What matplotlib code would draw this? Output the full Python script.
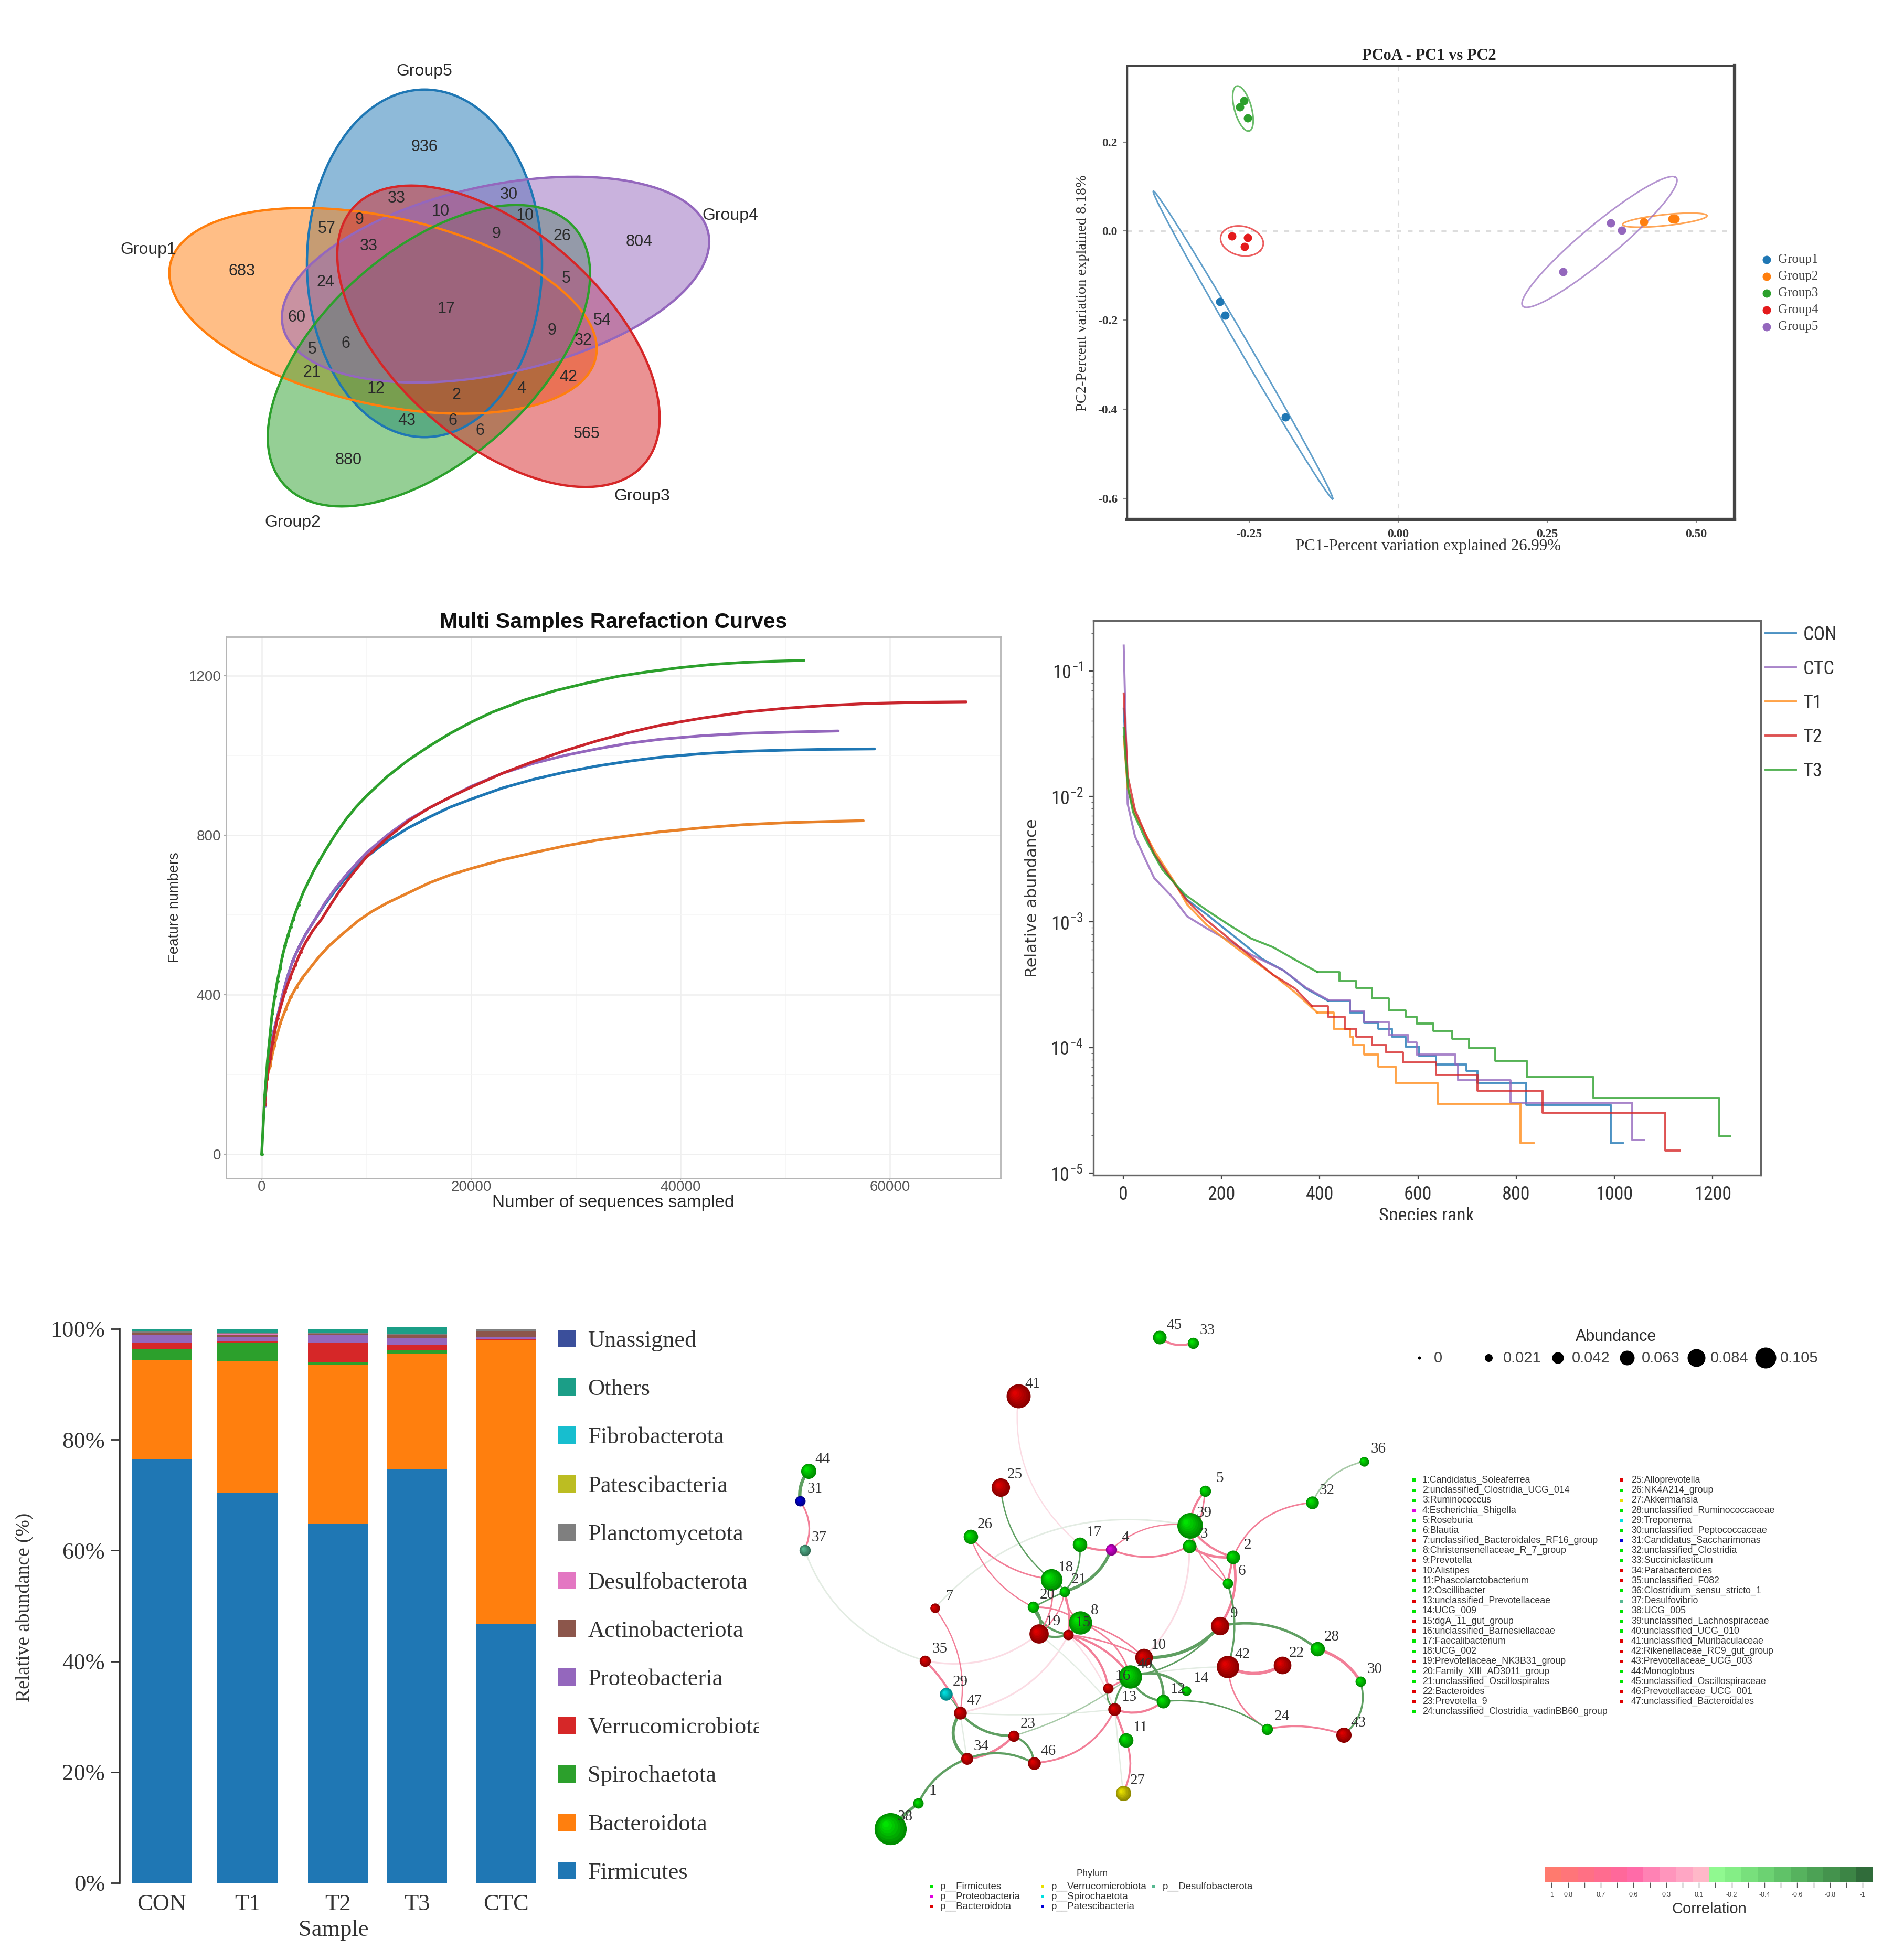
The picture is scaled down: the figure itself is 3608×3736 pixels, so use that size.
import numpy as np
import matplotlib
matplotlib.use("Agg")
from matplotlib import pyplot as plt
from matplotlib import ticker
from matplotlib.patches import Ellipse, PathPatch
from matplotlib.path import Path
from matplotlib.colors import ListedColormap, to_rgb
from matplotlib.transforms import Affine2D, Bbox
import logging

logging.getLogger("matplotlib.font_manager").setLevel(logging.ERROR)

W, H = 3608, 3736
SANS = "Liberation Sans"
SERIF = "Liberation Serif"
NARROW = ["Roboto Condensed", "Liberation Sans"]

# venn
venn_names = ["Group1", "Group2", "Group3", "Group4", "Group5"]
venn_colors = ["#ff7f0e", "#2ca02c", "#d62728", "#9467bd", "#1f77b4"]
venn_values = [936, 33, 30, 10, 10, 9, 57, 9, 26, 33, 804, 683, 24, 5, 17, 60, 54, 9, 32, 6, 5, 21, 42, 12, 4, 2,
               43, 6, 6, 565, 880]
venn_value_x = [809, 756, 970, 840, 1001, 685, 623, 946, 1071, 703, 1218, 461, 620, 1079, 851, 566, 1148, 1052, 1112,
                659, 595, 594, 1083, 717, 994, 870, 775, 863, 915, 1118, 664]
venn_value_y = [280, 378, 371, 403, 411, 419, 436, 446, 450, 469, 461, 517, 538, 531, 589, 605, 611, 630, 649, 655,
                666, 710, 719, 741, 741, 753, 802, 802, 821, 827, 877]

# pcoa
pcoa_groups = ["Group1", "Group2", "Group3", "Group4", "Group5"]
pcoa_colors = ["#1f77b4", "#ff7f0e", "#2ca02c", "#e41a1c", "#9467bd"]
pcoa_x = [[-0.299, -0.290, -0.189], [0.412, 0.459, 0.465], [-0.265, -0.258, -0.2525],
          [-0.279, -0.2525, -0.2576], [0.276, 0.356, 0.375]]
pcoa_y = [[-0.159, -0.189, -0.418], [0.021, 0.028, 0.027], [0.278, 0.293, 0.254],
          [-0.0115, -0.0153, -0.035], [-0.092, 0.0176, 0.002]]
# centre, end of long axis, end of short axis (offsets from centre)
pcoa_ell_c = [(-0.260, -0.256), (0.447, 0.0245), (-0.2601, 0.2751), (-0.2618, -0.0222), (0.3376, -0.0245)]
pcoa_ell_u = [(0.150, -0.3456), (0.0707, 0.0103), (0.0097, -0.0506), (0.031, -0.0215), (0.1271, 0.1456)]
pcoa_ell_v = [(0.0125, -0.005), (0.003, -0.012), (0.0143, 0.0023), (-0.018, -0.026), (0.027, -0.020)]

# rarefaction
rare_colors = {"T3": "#2ca02c", "T2": "#c9252d", "CTC": "#9467bd", "CON": "#1f77b4", "T1": "#e8822a"}
rare_t3_x = [0, 296, 546, 797, 997, 1263, 1498, 1749, 1984, 2235, 2500, 2766, 3000, 3500, 4000, 5000, 6000, 7000, 8000,
             9000, 10000, 12000, 14000, 16000, 18000, 20000, 22000, 25000, 28000, 31000, 34000, 37000, 40000, 43000,
             46000, 49000, 51780]
rare_t3_y = [0, 148, 233, 299, 352, 396, 434, 466, 497, 523, 548, 569, 589, 625, 658, 712, 758, 800, 838, 870, 898, 947,
             988, 1023, 1055, 1083, 1108, 1138, 1162, 1181, 1198, 1210, 1220, 1228, 1233, 1236, 1238]
rare_con_x = [296, 496, 797, 1047, 1682, 2054, 2470, 2970, 3557, 4220, 5060, 6000, 7000, 8000, 9000, 10000, 12000,
              14000, 16000, 18000, 20000, 23000, 26000, 29000, 32000, 35000, 38000, 42000, 46000, 50000, 54000, 58510]
rare_con_y = [133, 205, 253, 297, 363, 405, 445, 485, 519, 552, 587, 625, 660, 692, 720, 745, 785, 818, 845, 870, 890,
              918, 940, 958, 973, 985, 995, 1004, 1010, 1013, 1015, 1016]
rare_ctc_x = [296, 496, 797, 1047, 1682, 2054, 2470, 2970, 3557, 4220, 5060, 6000, 7000, 8000, 9000, 10000, 12000,
              14000, 16000, 18000, 20000, 23000, 26000, 29000, 32000, 35000, 38000, 42000, 46000, 50000, 55060]
rare_ctc_y = [120, 200, 250, 295, 363, 405, 445, 485, 519, 552, 587, 628, 665, 698, 727, 755, 800, 838, 868, 895, 922,
              955, 980, 1000, 1016, 1030, 1040, 1049, 1055, 1058, 1061]
rare_t2_x = [296, 496, 797, 1047, 1500, 2220, 2705, 3210, 3710, 4220, 4896, 5720, 6500, 7500, 8500, 10000, 12000, 14000,
             16000, 18000, 20000, 23000, 26000, 29000, 32000, 35000, 38000, 42000, 46000, 50000, 54000, 58000, 63000,
             67270]
rare_t2_y = [125, 190, 240, 280, 340, 407, 442, 475, 506, 532, 561, 589, 622, 662, 697, 745, 793, 835, 868, 895, 920,
             955, 985, 1012, 1036, 1057, 1075, 1093, 1108, 1118, 1125, 1130, 1133, 1134]
rare_t1_x = [451, 797, 1197, 1780, 2280, 2780, 3300, 3890, 4550, 5390, 6390, 7720, 9220, 10500, 12000, 14000, 16000,
             18000, 20000, 23000, 26000, 29000, 32000, 35000, 38000, 42000, 46000, 50000, 54000, 57450]
rare_t1_y = [186, 222, 272, 328, 363, 394, 418, 442, 464, 492, 521, 552, 585, 608, 630, 655, 680, 700, 716, 738, 756,
             773, 787, 798, 808, 818, 826, 831, 834, 836]

# species rank
rank_colors = {"CON": "#1f77b4", "CTC": "#9467bd", "T1": "#ff8c1a", "T2": "#d62728", "T3": "#2ca02c"}
rank_con_x = [1, 9, 24, 63, 102, 130, 170, 192, 237, 282, 327, 372, 417, 462, 490, 519, 547, 575, 603, 637, 699, 721,
              820, 993, 1017]
rank_con_y = [.05, .0115, .0074, .0035, .0021, .0015, .00115, .00098, .00071, .00051, .00041, .000295, .000236,
              .00019, .000158, .000141, .000122, .000102, .0000857, .000073, .0000653, .0000525, .0000349, .0000174,
              .0000174]
rank_ctc_x = [1, 9, 24, 46, 63, 102, 130, 170, 215, 260, 327, 372, 417, 462, 490, 541, 580, 597, 676, 682, 788, 1036,
              1061]
rank_ctc_y = [.159, .0087, .0048, .0031, .00224, .00155, .00111, .00089, .00071, .00055, .00041, .0003, .00024,
              .000195, .00016, .000126, .00011, .0000877, .000073, .000055, .0000363, .0000184, .0000184]
rank_t1_x = [1, 9, 24, 63, 102, 130, 170, 215, 260, 305, 350, 395, 429, 462, 468, 490, 519, 555, 640, 809, 836]
rank_t1_y = [.03, .0117, .0072, .0037, .00215, .00138, .00095, .00069, .00051, .00038, .000275, .00019, .000141,
             .000122, .000105, .0000877, .0000703, .0000525, .0000355, .0000174, .0000174]
rank_t2_x = [1, 9, 24, 63, 102, 130, 170, 215, 260, 305, 350, 384, 417, 451, 474, 507, 535, 569, 637, 721, 854, 1104,
             1134]
rank_t2_y = [.066, .0146, .0078, .00347, .00208, .00148, .00103, .00074, .00053, .00038, .000295, .000214, .000176,
             .000141, .000122, .000105, .0000912, .0000759, .0000607, .0000452, .0000302, .0000152, .0000152]
rank_t3_x = [1, 5, 10, 20, 46, 80, 125, 170, 215, 260, 305, 350, 395, 440, 474, 507, 541, 575, 597, 631, 670, 704, 757,
             822, 957, 1214, 1236]
rank_t3_y = [.035, .02, .0117, .0075, .0045, .0026, .00166, .00124, .00095, .00074, .00063, .0005, .0004, .00034,
             .0003, .000246, .000197, .000176, .000155, .000136, .000117, .0000993, .0000785, .0000585, .0000395,
             .0000197, .0000197]

# stacked bars
samples = ["CON", "T1", "T2", "T3", "CTC"]
bar_phyla = ["Firmicutes", "Bacteroidota", "Spirochaetota", "Verrucomicrobiota", "Proteobacteria", "Actinobacteriota",
             "Desulfobacterota", "Planctomycetota", "Patescibacteria", "Fibrobacterota", "Others", "Unassigned"]
bar_colors = ["#1f77b4", "#ff7f0e", "#2ca02c", "#d62728", "#9467bd", "#8c564b", "#e377c2", "#7f7f7f", "#bcbd22",
              "#17becf", "#1b9e87", "#3b4f9b"]
bar_values = {
    "CON": [76.5, 17.8, 2.1, 1.1, 1.4, 0.3, 0.05, 0.35, 0.0, 0.0, 0.35, 0.05],
    "T1": [70.5, 23.7, 3.3, 0.2, 0.8, 0.5, 0.05, 0.3, 0.0, 0.0, 0.6, 0.05],
    "T2": [64.8, 28.8, 0.4, 3.5, 1.4, 0.2, 0.05, 0.1, 0.0, 0.0, 0.7, 0.05],
    "T3": [74.7, 20.8, 0.6, 1.0, 1.2, 0.6, 0.05, 0.1, 0.0, 0.0, 1.2, 0.05],
    "CTC": [46.7, 51.2, 0.05, 0.15, 0.4, 1.1, 0.05, 0.3, 0.0, 0.0, 0.05, 0.0],
}
bar_left = [251, 414, 587, 737, 907]
bar_right = [366, 530, 701, 852, 1022]

# network: node positions
node_x = [327, 1111, 1002, 807, 1041, 1097, 368, 730, 1078, 889, 844, 937, 816, 995, 701, 800, 729, 658, 627, 613, 691,
          1233, 564, 1196, 532, 457, 837, 1321, 396, 1428, 33, 1308, 1011, 448, 344, 1437, 44, 258, 1003, 855, 576,
          1098, 1387, 53, 928, 615, 431]
node_y = [1336, 667, 637, 647, 487, 738, 806, 845, 854, 940, 1164, 1059, 1081, 1030, 878, 1023, 633, 728, 875, 803,
          761, 961, 1153, 1134, 477, 612, 1308, 917, 1039, 1005, 515, 519, 85, 1215, 949, 407, 648, 1405, 581, 992, 230,
          965, 1150, 433, 70, 1227, 1090]
node_radius = [13, 17, 17, 14, 14, 13, 12, 29, 23, 22, 18, 17, 16, 12, 13, 13, 18, 27, 24, 14, 13, 22, 14, 14, 23, 18,
               19, 18, 16, 13, 13, 16, 14, 15, 14, 12, 14, 40, 32, 29, 30, 28, 19, 19, 17, 16, 16]
genera = ["Candidatus_Soleaferrea", "unclassified_Clostridia_UCG_014", "Ruminococcus", "Escherichia_Shigella",
          "Roseburia", "Blautia", "unclassified_Bacteroidales_RF16_group", "Christensenellaceae_R_7_group",
          "Prevotella", "Alistipes", "Phascolarctobacterium", "Oscillibacter", "unclassified_Prevotellaceae",
          "UCG_009", "dgA_11_gut_group", "unclassified_Barnesiellaceae", "Faecalibacterium", "UCG_002",
          "Prevotellaceae_NK3B31_group", "Family_XIII_AD3011_group", "unclassified_Oscillospirales", "Bacteroides",
          "Prevotella_9", "unclassified_Clostridia_vadinBB60_group", "Alloprevotella", "NK4A214_group", "Akkermansia",
          "unclassified_Ruminococcaceae", "Treponema", "unclassified_Peptococcaceae", "Candidatus_Saccharimonas",
          "unclassified_Clostridia", "Succiniclasticum", "Parabacteroides", "unclassified_F082",
          "Clostridium_sensu_stricto_1", "Desulfovibrio", "UCG_005", "unclassified_Lachnospiraceae",
          "unclassified_UCG_010", "unclassified_Muribaculaceae", "Rikenellaceae_RC9_gut_group",
          "Prevotellaceae_UCG_003", "Monoglobus", "unclassified_Oscillospiraceae", "Prevotellaceae_UCG_001",
          "unclassified_Bacteroidales"]
# F firmicutes, B bacteroidota, P proteo, V verruco, S spiro, A patesci, D desulfo
node_phylum = "FFFPFFBFBBFFBFBBFFBFFBBFBFVFSFAFFBBFDFFFBBBFFBB"
phylum_colors = {"F": "#00e400", "P": "#e000e0", "B": "#e00000", "V": "#e8e000", "S": "#00e0e0", "A": "#0000d8",
                 "D": "#55b890"}
phylum_names = ["p__Firmicutes", "p__Proteobacteria", "p__Bacteroidota", "p__Verrucomicrobiota", "p__Spirochaetota",
                "p__Patescibacteria", "p__Desulfobacterota"]
phylum_keys = "FPBVSAD"
edge_colors = {"p": "#f27f98", "g": "#5f9f62", "lp": "#fbdce4", "lg": "#e3ece3", "mg": "#a8caa8"}
# from, to, bend, kind, width
edges = [
    (45, 33, -.3, "p", 2.6), (44, 31, -.2, "g", 4), (31, 37, .25, "p", 2), (41, 17, -.25, "lp", 1.5),
    (25, 18, -.2, "g", 1.6), (26, 18, -.2, "p", 1.8), (26, 20, -.2, "p", 1.5), (17, 4, -.15, "p", 2.6),
    (17, 21, .2, "g", 1.8), (4, 21, .25, "g", 3.6), (4, 3, -.25, "p", 2.2), (4, 39, .25, "p", 1.5),
    (37, 35, -.25, "lg", 1.8), (7, 47, .2, "p", 1.5), (35, 47, .1, "p", 2.6), (35, 19, -.25, "lp", 2),
    (7, 39, .3, "lg", 1.8), (29, 47, .1, "g", 1.2), (47, 34, -.4, "g", 3.6), (47, 23, -.25, "g", 3),
    (34, 23, -.2, "p", 3), (34, 46, .25, "g", 2.6), (23, 46, .3, "g", 2.6), (47, 34, 0, "lg", 1.5),
    (1, 34, .2, "g", 2.8), (38, 1, .05, "g", 3.5), (46, 13, -.3, "p", 2.2), (23, 40, -.1, "mg", 1.6),
    (47, 15, -.25, "lp", 2), (47, 13, -.05, "lg", 1.5), (13, 27, 0, "lg", 1.5), (13, 11, 0, "p", 2.6),
    (11, 27, .2, "p", 2.2), (13, 16, .3, "g", 2), (16, 40, 0, "p", 2), (13, 40, .2, "g", 2.2),
    (13, 12, -.3, "p", 2.6), (10, 12, .25, "g", 3), (40, 12, -.3, "g", 2.6), (40, 14, .35, "g", 3),
    (10, 9, -.25, "g", 3.8), (40, 9, -.2, "g", 1.8), (9, 28, .25, "g", 3), (9, 2, -.2, "p", 3),
    (6, 42, .15, "g", 2.2), (2, 6, 0, "p", 2.6), (3, 2, -.2, "p", 3), (39, 2, -.2, "p", 2.6), (39, 5, .15, "p", 2.6),
    (3, 5, -.1, "p", 1.8), (39, 6, -.2, "p", 1.6), (3, 6, .2, "p", 1.6), (3, 10, .2, "lp", 2), (40, 42, .05, "lg", 1.6),
    (42, 22, -.3, "p", 3.8), (42, 24, -.25, "p", 1.8), (28, 30, .2, "p", 3.5), (30, 43, .3, "g", 2.2),
    (43, 24, -.15, "p", 2.2), (12, 24, .2, "g", 1.8), (36, 32, -.25, "mg", 1.8), (32, 2, -.3, "p", 1.8),
    (18, 21, .2, "g", 1.8), (21, 20, 0, "g", 1.8), (20, 19, .3, "g", 3), (19, 15, -.2, "g", 2.6), (20, 15, -.3, "g", 2.6),
    (21, 8, -.2, "p", 1.8), (20, 8, .2, "p", 1.8), (18, 19, .2, "p", 1.8), (21, 15, .1, "p", 2.2), (8, 15, 0, "p", 1.8),
    (21, 19, .2, "p", 1.5), (8, 10, .15, "p", 1.8), (15, 40, .2, "p", 2.6), (15, 16, .25, "p", 2.6), (15, 10, .1, "p", 1.8),
    (8, 40, .25, "p", 1.8), (15, 13, .1, "lp", 1.6), (19, 13, .05, "lg", 1.5),
]
abund_values = ["0", "0.021", "0.042", "0.063", "0.084", "0.105"]
abund_dot_x = [2705, 2837, 2969, 3101, 3233, 3365]
abund_dot_r = [3, 7.5, 11, 14, 17, 20]
abund_text_x = [2733, 2865, 2996, 3129, 3260, 3393]
corr_colors = ["#ff7a6e", "#ff7579", "#ff7084", "#ff6c8f", "#ff689a", "#ff6ba8", "#ff82b4", "#ff95bc", "#ffa6c4",
               "#ffb8c8", "#90f990", "#84ee86", "#78e07c", "#6cd272", "#60c268", "#56b25e", "#4ca255", "#44934d",
               "#3c8545", "#306c3a"]
corr_tick_idx = [0, 1, 3, 5, 7, 9, 11, 13, 15, 17, 19]
corr_labels = ["1", "0.8", "0.7", "0.6", "0.3", "0.1", "-0.2", "-0.4", "-0.6", "-0.8", "-1"]

plt.rcParams["mathtext.default"] = "regular"
fig = plt.figure(figsize=(W / 100, H / 100), dpi=100)


def px_axes(x0, y0, x1, y1, **kw):
    return fig.add_axes([x0 / W, 1 - y1 / H, (x1 - x0) / W, (y1 - y0) / H], **kw)


# overlay in picture pixels, for free text and the venn
ov = fig.add_axes([0, 0, 1, 1], zorder=10)
ov.set_xlim(0, W)
ov.set_ylim(H, 0)
ov.axis("off")
ov.patch.set_alpha(0)


def txt(x, y, s, size, family=SANS, color="#2b2b2b", ha="center", va="center", **kw):
    return ov.text(x, y, s, fontsize=size, family=family, color=color, ha=ha, va=va, **kw)


def clip_right(t, xmax=W, ybottom=H):
    t.set_clip_box(Bbox([[0, H - ybottom], [xmax, H]]))
    t.set_clip_on(True)


def place_labels(ax, xlabel, xpos, ylabel, ypos, size, family=SANS, color="#2b2b2b", rot_size=None):
    ax.set_xlabel(xlabel, fontsize=size, family=family, color=color, va="center", ha="center")
    ax.set_ylabel(ylabel, fontsize=rot_size or size, family=family, color=color, va="center", ha="center")
    ax.xaxis.set_label_coords(xpos[0], xpos[1], transform=ov.transData)
    ax.yaxis.set_label_coords(ypos[0], ypos[1], transform=ov.transData)


# ---- venn ----
venn_cx = [730, 817.5, 950, 944.5, 809]
venn_cy = [592.5, 678, 641, 533, 502]
venn_angle = [18, -54, 54, -18, 90]
squash = 0.785
venn_tr = Affine2D().scale(1, squash) + ov.transData
for i in [4, 0, 1, 2, 3]:
    ov.add_patch(Ellipse((venn_cx[i], venn_cy[i] / squash), 844, 448, angle=venn_angle[i], facecolor=venn_colors[i],
                         alpha=0.5, edgecolor="none", transform=venn_tr, zorder=1))
for i in [4, 3, 0, 1, 2]:
    ov.add_patch(Ellipse((venn_cx[i], venn_cy[i] / squash), 844, 448, angle=venn_angle[i], facecolor="none",
                         edgecolor=venn_colors[i], lw=3.2, transform=venn_tr, zorder=2))
for v, x, y in zip(venn_values, venn_value_x, venn_value_y):
    txt(x, y, str(v), 22, zorder=3)
for name, x, y in zip(venn_names, [283, 558, 1224, 1392, 809], [476, 996, 946, 411, 136]):
    txt(x, y, name, 23, zorder=3)

# ---- pcoa ----
ax = px_axes(2148, 125, 3306, 990)
ax.set_xlim(-0.4545, 0.564)
ax.set_ylim(-0.6475, 0.3716)
ax.axhline(0, color="#dddddd", lw=2.2, ls=(0, (3, 4)))
ax.axvline(0, color="#dddddd", lw=2.2, ls=(0, (3, 4)))
t = np.linspace(0, 2 * np.pi, 200)
for i, g in enumerate(pcoa_groups):
    c, u, v = pcoa_ell_c[i], pcoa_ell_u[i], pcoa_ell_v[i]
    ax.plot(c[0] + u[0] * np.cos(t) + v[0] * np.sin(t), c[1] + u[1] * np.cos(t) + v[1] * np.sin(t),
            color=pcoa_colors[i], lw=2.2, alpha=0.7)
    ax.scatter(pcoa_x[i], pcoa_y[i], s=110, color=pcoa_colors[i], label=g, zorder=3)
ax.set_xticks([-0.25, 0, 0.25, 0.5], ["-0.25", "0.00", "0.25", "0.50"])
ax.set_yticks([-0.6, -0.4, -0.2, 0, 0.2], ["-0.6", "-0.4", "-0.2", "0.0", "0.2"])
ax.tick_params(labelsize=17, length=5, width=1.5, color="#888888", pad=8)
for lab in ax.get_xticklabels() + ax.get_yticklabels():
    lab.set_family(SERIF)
    lab.set_fontweight("bold")
    lab.set_color("#333333")
for side, lw in zip(["top", "left", "right", "bottom"], [3.5, 2.5, 4.5, 4.5]):
    ax.spines[side].set_linewidth(lw)
    ax.spines[side].set_color("#444444")
place_labels(ax, "PC1-Percent variation explained 26.99%", (2722, 1041), "PC2-Percent variation explained 8.18%",
             (2064, 559), 22.3, SERIF, "#333333", rot_size=20.5)
txt(2724, 107, "PCoA - PC1 vs PC2", 22, SERIF, "#222222", fontweight="bold")
ax.legend(loc="upper left", bbox_to_anchor=(3342, 484), bbox_transform=ov.transData, frameon=False,
          prop={"family": SERIF, "size": 18}, labelspacing=0.38, handletextpad=-0.1, borderpad=0, borderaxespad=0,
          labelcolor="#444444")

# ---- rarefaction ----
ax = px_axes(431, 1214, 1907, 2246)
ax.set_xlim(-3395, 70557)
ax.set_ylim(-61, 1297)
ax.grid(True, which="major", color="#efefef", lw=1.8)
ax.set_xticks([10000, 30000, 50000], minor=True)
ax.set_yticks([200, 600, 1000], minor=True)
ax.grid(True, which="minor", color="#f6f6f6", lw=1.2)
ax.tick_params(which="minor", length=0)
rare_series = [("CON", rare_con_x, rare_con_y), ("CTC", rare_ctc_x, rare_ctc_y), ("T1", rare_t1_x, rare_t1_y),
               ("T2", rare_t2_x, rare_t2_y), ("T3", rare_t3_x, rare_t3_y)]
for name, xs, ys in rare_series:
    ax.plot(xs, ys, color=rare_colors[name], lw=3.8, solid_capstyle="round", zorder=3)
    low = np.array(xs) < 4000
    ax.scatter(np.array(xs)[low], np.array(ys)[low], s=16, color=rare_colors[name], zorder=3)
ax.set_xticks([0, 20000, 40000, 60000])
ax.set_yticks([0, 400, 800, 1200])
ax.tick_params(which="major", labelsize=20, labelcolor="#555555", color="#aaaaaa", length=3, width=1.5)
ax.tick_params(axis="x", which="major", pad=0)
ax.tick_params(axis="y", which="major", pad=4)
for lab in ax.get_xticklabels() + ax.get_yticklabels():
    lab.set_family(SANS)
for s in ax.spines.values():
    s.set_color("#b5b5b5")
    s.set_linewidth(2)
place_labels(ax, "Number of sequences sampled", (1169, 2293), "Feature numbers", (333, 1730), 24, SANS, rot_size=20)
txt(1169, 1186, "Multi Samples Rarefaction Curves", 29.5, SANS, "#111111", fontweight="bold")

# ---- species rank ----
ax = px_axes(2084, 1183, 3356, 2240)
ax.set_yscale("log")
ax.set_xlim(-60.7, 1298)
ax.set_ylim(10 ** -5.016, 10 ** -0.6006)
rank_series = [("CON", rank_con_x, rank_con_y), ("CTC", rank_ctc_x, rank_ctc_y), ("T1", rank_t1_x, rank_t1_y),
               ("T2", rank_t2_x, rank_t2_y), ("T3", rank_t3_x, rank_t3_y)]
for name, xs, ys in rank_series:
    xs, ys = np.array(xs), np.array(ys)
    # the head of the curves is too dense to show steps, the tail is stepped
    n = int(np.sum(xs <= 372))
    ax.plot(xs[:n + 1], ys[:n + 1], color=rank_colors[name], lw=2.8, alpha=0.8, label=name)
    ax.step(xs[n:], ys[n:], where="post", color=rank_colors[name], lw=2.8, alpha=0.8)
ax.set_xticks([0, 200, 400, 600, 800, 1000, 1200])
ax.set_yticks([1e-5, 1e-4, 1e-3, 1e-2, 1e-1], ["10$^{-5}$", "10$^{-4}$", "10$^{-3}$", "10$^{-2}$", "10$^{-1}$"])
ax.yaxis.set_minor_locator(ticker.LogLocator(base=10, subs=np.arange(2, 10) * 0.1, numticks=12))
ax.yaxis.set_minor_formatter(ticker.NullFormatter())
ax.tick_params(which="major", labelsize=26, labelcolor="#333333", length=6, width=1.6, color="#444444", pad=8)
ax.tick_params(which="minor", length=3, width=1, color="#666666")
for lab in ax.get_xticklabels() + ax.get_yticklabels():
    lab.set_family(NARROW)
for s in ax.spines.values():
    s.set_color("#666666")
    s.set_linewidth(2.4)
ax.set_ylabel("Relative abundance", fontsize=22, family="DejaVu Sans", color="#333333", va="center", ha="center")
ax.yaxis.set_label_coords(1968, 1712, transform=ov.transData)
ax.set_xlabel("Species rank", fontsize=26, family=NARROW, color="#333333", va="center", ha="center")
ax.xaxis.set_label_coords(2719, 2318, transform=ov.transData)
clip_right(ax.xaxis.label, ybottom=2326)
ax.legend(loc="upper left", bbox_to_anchor=(3365, 1192), bbox_transform=ov.transData, frameon=False,
          prop={"family": NARROW, "size": 26}, labelspacing=0.8, handlelength=1.6, handletextpad=0.4,
          borderpad=0, borderaxespad=0, labelcolor="#333333")

# ---- stacked bars ----
ax = px_axes(228, 2533, 1040, 3589)
ax.set_xlim(228, 1040)
ax.set_ylim(0, 100)
centers = [(a + b) / 2 for a, b in zip(bar_left, bar_right)]
widths = [b - a for a, b in zip(bar_left, bar_right)]
bottom = np.zeros(len(samples))
handles = []
for i, phylum in enumerate(bar_phyla):
    vals = np.array([bar_values[s][i] for s in samples])
    bars = ax.bar(centers, vals, width=widths, bottom=bottom, color=bar_colors[i], label=phylum, clip_on=False)
    handles.append(bars)
    bottom += vals
ax.set_xticks(centers, samples)
ax.set_yticks([0, 20, 40, 60, 80, 100], ["0%", "20%", "40%", "60%", "80%", "100%"])
ax.tick_params(axis="x", length=0, labelsize=32, labelcolor="#333333", pad=15)
ax.tick_params(axis="y", length=12, width=2, color="#333333", labelsize=32, labelcolor="#333333", pad=8)
for lab in ax.get_xticklabels() + ax.get_yticklabels():
    lab.set_family(SERIF)
for side in ["top", "right", "bottom"]:
    ax.spines[side].set_visible(False)
ax.spines["left"].set_linewidth(2.6)
ax.spines["left"].set_color("#333333")
place_labels(ax, "Sample", (636, 3679), "Relative abundance (%)", (46, 3064), 32, SERIF, "#333333", rot_size=27)
leg = ax.legend(handles[::-1], bar_phyla[::-1], loc="upper left", bbox_to_anchor=(1064, 2535),
                bbox_transform=ov.transData, frameon=False, prop={"family": SERIF, "size": 32}, labelspacing=1.15,
                handlelength=0.77, handleheight=0.77, handletextpad=0.5, borderpad=0, borderaxespad=0,
                labelcolor="#333333")
for lt in leg.get_texts():
    clip_right(lt, xmax=1447)

# ---- network ----
net = px_axes(1500, 2500, 2700, 3600)
net.set_xlim(0, 1568)
net.set_ylim(1568, 0)
net.axis("off")
nx = np.array(node_x, dtype=float)
ny = np.array(node_y, dtype=float)
for a, b, bend, kind, lw in edges:
    p0 = np.array([nx[a - 1], ny[a - 1]])
    p1 = np.array([nx[b - 1], ny[b - 1]])
    d = p1 - p0
    ctrl = (p0 + p1) / 2 + bend * np.array([d[1], -d[0]])
    path = Path([p0, ctrl, p1], [Path.MOVETO, Path.CURVE3, Path.CURVE3])
    net.add_patch(PathPatch(path, fill=False, edgecolor=edge_colors[kind], lw=lw * 1.15, capstyle="round",
                            zorder=1 if kind in ("lp", "lg") else 2))
for k in range(7):
    # shade the spheres with stacked discs, dark rim to bright centre
    frac = k / 6
    for i in range(len(node_x)):
        base = np.array(to_rgb(phylum_colors[node_phylum[i]]))
        col = base * (0.62 + 0.38 * frac)
        r = node_radius[i] / 1.307 * (1 - 0.82 * frac)
        shift = node_radius[i] * 0.3 * frac
        net.scatter(nx[i] - shift, ny[i] - shift, s=(2 * r * 0.72) ** 2, color=col, linewidths=0, zorder=3 + k)
for i in range(len(node_x)):
    net.text(nx[i] + 36, ny[i] - 33, str(i + 1), fontsize=21, family=SERIF, color="#333333", ha="center", va="center",
             zorder=12)

# abundance legend
txt(3080, 2548, "Abundance", 22)
for lab, dx, dr, tx in zip(abund_values, abund_dot_x, abund_dot_r, abund_text_x):
    ov.scatter(dx, 2588, s=(2 * dr * 0.72) ** 2, color="black", linewidths=0)
    txt(tx, 2589, lab, 21, color="#444444", ha="left")

# genus list
for i, g in enumerate(genera):
    col = i // 24
    row = i % 24
    mx = [2695, 3091][col]
    tx = [2711, 3109][col]
    y = 2821.4 + row * 19.19
    ov.scatter(mx, y, s=24, marker="s", color=phylum_colors[node_phylum[i]], linewidths=0)
    txt(tx, y, f"{i + 1}:{g}", 12.8, color="#333333", ha="left")

# phylum legend
txt(2082, 3571, "Phylum", 13, color="#333333")
phylum_col_x = [1775, 1775, 1775, 1987, 1987, 1987, 2199]
phylum_row_y = [3596, 3615, 3634, 3596, 3615, 3634, 3596]
for name, key, x, y in zip(phylum_names, phylum_keys, phylum_col_x, phylum_row_y):
    ov.scatter(x, y, s=22, marker="s", color=phylum_colors[key], linewidths=0)
    txt(x + 17, y, name, 13.5, color="#333333", ha="left")

# correlation bar
cb = px_axes(2945, 3558, 3569, 3588)
cb.imshow(np.arange(len(corr_colors))[None, :], cmap=ListedColormap(corr_colors), aspect="auto",
          extent=(0, len(corr_colors), 0, 1))
cb.set_yticks([])
cb.set_xticks(np.arange(20) + 0.4, minor=True)
cb.set_xticks(np.array(corr_tick_idx) + 0.4, corr_labels)
cb.tick_params(axis="x", which="both", length=7, width=1, color="#555555", labelsize=9, labelcolor="#444444", pad=6)
for lab in cb.get_xticklabels():
    lab.set_family(SANS)
for s in cb.spines.values():
    s.set_visible(False)
txt(3258, 3639, "Correlation", 21, color="#333333")

fig.savefig("out.png", dpi=100, facecolor="white")
